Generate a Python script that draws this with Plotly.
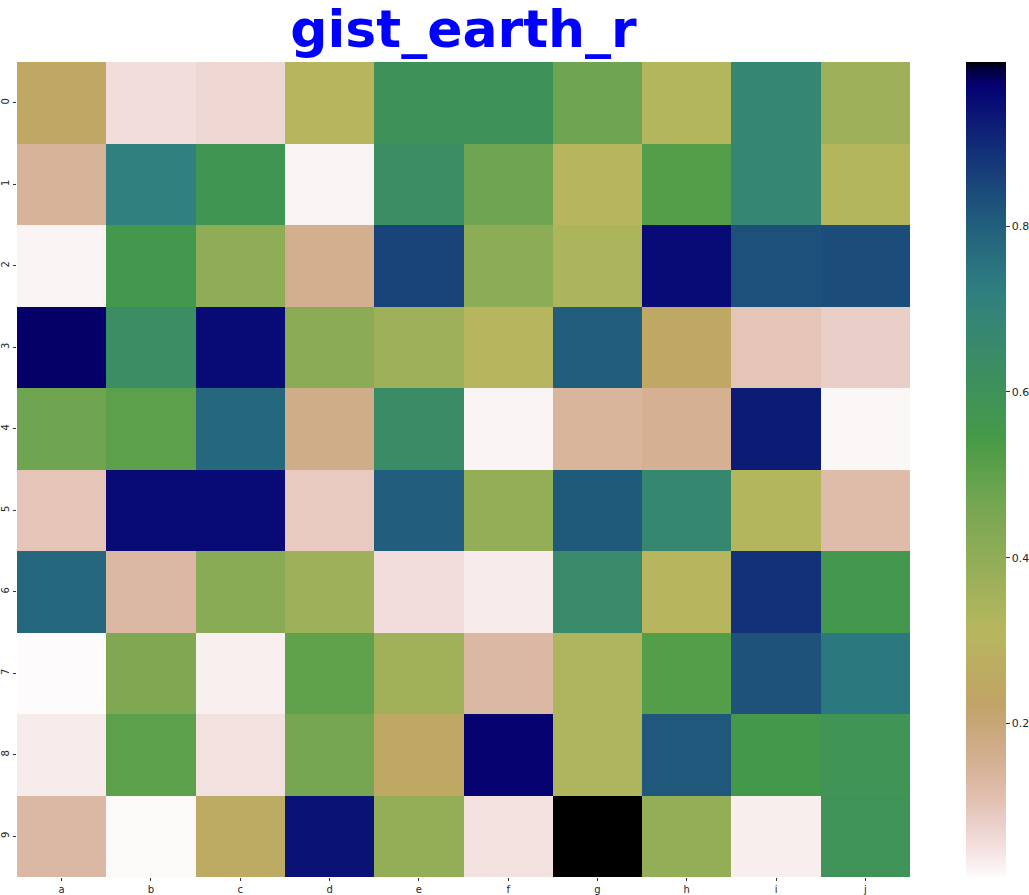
import numpy as np
import plotly.graph_objects as go

columns = ["a", "b", "c", "d", "e", "f", "g", "h", "i", "j"]
rows = ["0", "1", "2", "3", "4", "5", "6", "7", "8", "9"]

row0 = [0.24, 0.055, 0.065, 0.30, 0.60, 0.60, 0.475, 0.32, 0.68, 0.37]
row1 = [0.145, 0.72, 0.58, 0.025, 0.63, 0.475, 0.31, 0.52, 0.68, 0.32]
row2 = [0.025, 0.56, 0.405, 0.16, 0.855, 0.41, 0.335, 0.955, 0.83, 0.84]
row3 = [0.973, 0.63, 0.955, 0.415, 0.37, 0.31, 0.805, 0.24, 0.10, 0.08]
row4 = [0.475, 0.505, 0.78, 0.17, 0.64, 0.025, 0.14, 0.155, 0.925, 0.02]
row5 = [0.10, 0.955, 0.955, 0.09, 0.805, 0.395, 0.81, 0.67, 0.32, 0.12]
row6 = [0.78, 0.13, 0.42, 0.37, 0.055, 0.035, 0.655, 0.31, 0.89, 0.56]
row7 = [0.015, 0.44, 0.03, 0.50, 0.365, 0.13, 0.33, 0.52, 0.825, 0.74]
row8 = [0.035, 0.505, 0.05, 0.46, 0.245, 0.97, 0.33, 0.815, 0.555, 0.59]
row9 = [0.13, 0.018, 0.255, 0.94, 0.395, 0.05, 0.998, 0.395, 0.032, 0.595]

z = [row0, row1, row2, row3, row4, row5, row6, row7, row8, row9]

cbar_ticks = [0.2, 0.4, 0.6, 0.8]

# matplotlib gist_earth segment data (colormap definition)
_red = [(0.0, 0.0), (0.2824, 0.1882), (0.4588, 0.2714), (0.5490, 0.4719),
        (0.6980, 0.7176), (0.7882, 0.7553), (1.0, 0.9922)]
_green = [(0.0, 0.0), (0.0275, 0.0), (0.1098, 0.1893), (0.1647, 0.3035),
          (0.2078, 0.3841), (0.2824, 0.5020), (0.5216, 0.6397), (0.6980, 0.7171),
          (0.7882, 0.6392), (0.7922, 0.6413), (0.8000, 0.6447), (0.8078, 0.6481),
          (0.8157, 0.6549), (0.8667, 0.6991), (0.8745, 0.7103), (0.8824, 0.7216),
          (0.8902, 0.7323), (0.8980, 0.7430), (0.9412, 0.8275), (0.9569, 0.8635),
          (0.9647, 0.8816), (0.9961, 0.9733), (1.0, 0.9843)]
_blue = [(0.0, 0.0), (0.0039, 0.1684), (0.0078, 0.2212), (0.0275, 0.4329),
         (0.0314, 0.4549), (0.2824, 0.5004), (0.4667, 0.2748), (0.5451, 0.3205),
         (0.7843, 0.3961), (0.8941, 0.6651), (1.0, 0.9843)]


def _ch(seg, t):
    xs = [p[0] for p in seg]
    ys = [p[1] for p in seg]
    return float(np.interp(t, xs, ys))


n = 128
colorscale = []
for k in range(n):
    v = k / (n - 1)
    t = 1.0 - v  # reversed
    r = round(_ch(_red, t) * 255)
    g = round(_ch(_green, t) * 255)
    b = round(_ch(_blue, t) * 255)
    colorscale.append([v, f"rgb({r},{g},{b})"])

L, R, T, B = 17, 119, 62, 18
W, H = 1029, 895
pw = W - L - R

fig = go.Figure(
    go.Heatmap(
        z=z,
        x=columns,
        y=rows,
        colorscale=colorscale,
        xgap=0,
        ygap=0,
        colorbar=dict(
            x=(966 - L) / pw,
            xanchor="left",
            xpad=0,
            ypad=0,
            y=0.5,
            yanchor="middle",
            len=1.0,
            lenmode="fraction",
            thickness=40,
            thicknessmode="pixels",
            outlinewidth=0,
            tickvals=cbar_ticks,
            ticktext=[f"{t:.1f}" for t in cbar_ticks],
            ticks="outside",
            ticklen=4,
            tickcolor="#333",
            tickfont=dict(family="DejaVu Sans", size=11, color="#262626"),
        ),
    )
)

fig.update_layout(
    width=W,
    height=H,
    margin=dict(l=L, r=R, t=T, b=B, autoexpand=False),
    paper_bgcolor="white",
    plot_bgcolor="white",
    title=dict(
        text="<b>gist_earth_r</b>",
        x=(L + pw / 2) / W,
        xanchor="center",
        y=1 - 29 / H,
        yanchor="middle",
        font=dict(family="Comic Sans MS, DejaVu Sans, sans-serif", size=52, color="blue"),
    ),
    xaxis=dict(
        showgrid=False,
        zeroline=False,
        ticks="outside",
        ticklen=3,
        tickcolor="#333",
        tickfont=dict(family="DejaVu Sans", size=10, color="#262626"),
        automargin=False,
    ),
    yaxis=dict(
        autorange="reversed",
        showgrid=False,
        zeroline=False,
        ticks="outside",
        ticklen=3,
        tickcolor="#333",
        tickangle=-90,
        tickfont=dict(family="DejaVu Sans", size=10, color="#262626"),
        automargin=False,
    ),
)

fig.write_html(
    "out.html",
    config={"displayModeBar": False},
    post_script="document.body.style.margin='0';document.body.style.overflow='hidden';",
)
